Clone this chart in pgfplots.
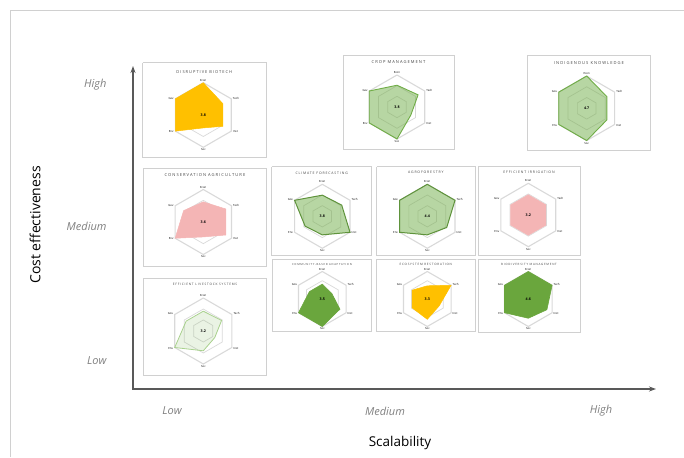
\documentclass[border=0pt]{standalone}
\usepackage{pgfplots}
\pgfplotsset{compat=1.18}
\usepgfplotslibrary{polar}
\usetikzlibrary{arrows.meta}
\usepackage{fontspec}
\setmainfont{Open Sans}
\newfontfamily\spaced[LetterSpace=25]{Open Sans}

\definecolor{amber}{HTML}{FFC000}
\definecolor{rosy}{HTML}{F4B5B5}
\definecolor{lgreen}{HTML}{A9D18E}
\definecolor{dgreen}{HTML}{70AD47}
\definecolor{sgreen}{HTML}{6AA63D}
\definecolor{ringgray}{HTML}{D9D9D9}
\definecolor{axgray}{HTML}{595959}
\definecolor{boxgray}{HTML}{D0D0D0}
\definecolor{lblgray}{HTML}{7F7F7F}

\tikzset{
  ring/.style={ringgray, line width=0.7pt},
  sAmber/.style={fill=amber, draw=amber, line width=0.5pt},
  sRosy/.style={fill=rosy, draw=rosy, line width=0.5pt},
  sGreen/.style={fill=dgreen, fill opacity=0.5, draw=dgreen, line width=0.9pt},
  sGreenD/.style={fill=dgreen, fill opacity=0.5, draw=dgreen!85!black, line width=1pt},
  sSolid/.style={fill=sgreen, draw=sgreen, line width=0.6pt},
  sPale/.style={fill=dgreen, fill opacity=0.15, draw=lgreen, line width=0.8pt},
  tiny/.style={inner sep=0.4pt},
}
\newcommand{\lab}{\fontsize{2.8}{3}\selectfont}
\newcommand{\ctr}{\fontsize{3.6}{4}\selectfont\bfseries}
\newcommand{\ttl}[1]{\spaced\fontsize{#1}{#1}\selectfont\color{black!75}}

% #1 x, #2 y (pt from bottom), #3 diameter, #4 style, #5 values, #6 centre label
\newcommand{\radar}[6]{%
\begin{polaraxis}[at={(#1pt,#2pt)}, anchor=center, scale only axis,
  width=#3pt, height=#3pt, xmin=0, xmax=360, ymin=0, ymax=5,
  hide axis, clip=false]
\addplot[ring, line width=1.1pt] coordinates {(90,5)(30,5)(-30,5)(-90,5)(-150,5)(150,5)(90,5)};
\addplot[ring] coordinates {(90,3.33)(30,3.33)(-30,3.33)(-90,3.33)(-150,3.33)(150,3.33)(90,3.33)};
\addplot[ring] coordinates {(90,1.67)(30,1.67)(-30,1.67)(-90,1.67)(-150,1.67)(150,1.67)(90,1.67)};
\addplot[#4] coordinates {#5};
\node[tiny, font=\lab, anchor=south] at (axis cs:90,5.12) {Econ};
\node[tiny, font=\lab, anchor=west] at (axis cs:30,5.2) {Tech};
\node[tiny, font=\lab, anchor=west] at (axis cs:-30,5.2) {Inst};
\node[tiny, font=\lab, anchor=north] at (axis cs:-90,5.12) {Soc};
\node[tiny, font=\lab, anchor=east] at (axis cs:-150,5.2) {Env};
\node[tiny, font=\lab, anchor=east] at (axis cs:150,5.2) {Gov};
\node[tiny, font=\ctr] at (axis cs:0,0) {#6};
\end{polaraxis}}

\begin{document}
\begin{tikzpicture}
\useasboundingbox (0,0) rectangle (684pt,457pt);
\begin{axis}[name=main, at={(0,0)}, anchor=south west, scale only axis,
  width=684pt, height=457pt, xmin=0, xmax=684, ymin=0, ymax=457,
  y dir=reverse, hide axis, clip=false]
% outer frame
\addplot[boxgray, line width=1pt] coordinates {(10.5,457)(10.5,10.5)(684,10.5)};
% panel boxes
\addplot[boxgray, line width=0.8pt] coordinates {(142.7,62.7)(266,62.7)(266,157.7)(142.7,157.7)(142.7,62.7)};
\addplot[boxgray, line width=0.8pt] coordinates {(343,55)(454,55)(454,149)(343,149)(343,55)};
\addplot[boxgray, line width=0.8pt] coordinates {(527.5,55)(650.7,55)(650.7,150)(527.5,150)(527.5,55)};
\addplot[boxgray, line width=0.8pt] coordinates {(143.3,168.3)(266.7,168.3)(266.7,266.7)(143.3,266.7)(143.3,168.3)};
\addplot[boxgray, line width=0.8pt] coordinates {(271.7,166.7)(371.7,166.7)(371.7,255)(271.7,255)(271.7,166.7)};
\addplot[boxgray, line width=0.8pt] coordinates {(376.7,166.7)(475,166.7)(475,255)(376.7,255)(376.7,166.7)};
\addplot[boxgray, line width=0.8pt] coordinates {(478.3,166.7)(580,166.7)(580,255)(478.3,255)(478.3,166.7)};
\addplot[boxgray, line width=0.8pt] coordinates {(143.3,278.3)(266.7,278.3)(266.7,375)(143.3,375)(143.3,278.3)};
\addplot[boxgray, line width=0.8pt] coordinates {(272.7,259)(371.7,259)(371.7,331.7)(272.7,331.7)(272.7,259)};
\addplot[boxgray, line width=0.8pt] coordinates {(376.7,259)(475,259)(475,331.7)(376.7,331.7)(376.7,259)};
\addplot[boxgray, line width=0.8pt] coordinates {(478.3,259)(580,259)(580,332)(478.3,332)(478.3,259)};
% axes arrows
\addplot[axgray, line width=1.2pt, -{Stealth[length=7pt,width=5pt]}] coordinates {(133,389)(133,66)};
\addplot[axgray, line width=1.2pt, -{Stealth[length=7pt,width=5pt]}] coordinates {(132.4,389)(656,389)};
% category labels
\node[font=\fontsize{11}{13}\selectfont\itshape, text=lblgray, anchor=east] at (axis cs:110,85) {High};
\node[font=\fontsize{11}{13}\selectfont\itshape, text=lblgray, anchor=east] at (axis cs:110,226) {Medium};
\node[font=\fontsize{11}{13}\selectfont\itshape, text=lblgray, anchor=east] at (axis cs:110,361) {Low};
\node[font=\fontsize{11}{13}\selectfont\itshape, text=lblgray] at (axis cs:172,411) {Low};
\node[font=\fontsize{11}{13}\selectfont\itshape, text=lblgray] at (axis cs:385,411) {Medium};
\node[font=\fontsize{11}{13}\selectfont\itshape, text=lblgray] at (axis cs:601,411) {High};
\node[font=\fontsize{14}{16}\selectfont, rotate=90] at (axis cs:35,225) {Cost effectiveness};
\node[font=\fontsize{13.5}{16}\selectfont] at (axis cs:400,443) {Scalability};
% panel titles
\node[tiny, font={\ttl{4.0}}] at (axis cs:204.3,72.3) {DISRUPTIVE BIOTECH};
\node[tiny, font={\ttl{4.1}}] at (axis cs:398.5,61.7) {CROP MANAGEMENT};
\node[tiny, font={\ttl{4.1}}] at (axis cs:589,62.7) {INDIGENOUS KNOWLEDGE};
\node[tiny, font={\ttl{4.1}}] at (axis cs:205,175) {CONSERVATION AGRICULTURE};
\node[tiny, font={\ttl{3.45}}] at (axis cs:321.7,173.3) {CLIMATE FORECASTING};
\node[tiny, font={\ttl{3.45}}] at (axis cs:425.8,172.3) {AGROFORESTRY};
\node[tiny, font={\ttl{3.45}}] at (axis cs:529,172.3) {EFFICIENT IRRIGATION};
\node[tiny, font={\ttl{3.15}}] at (axis cs:205,284.3) {EFFICIENT LIVESTOCK SYSTEMS};
\node[tiny, font={\ttl{2.75}}] at (axis cs:322,264.5) {COMMUNITY-BASED ADAPTATION};
\node[tiny, font={\ttl{3.05}}] at (axis cs:425.8,264.5) {ECOSYSTEM RESTORATION};
\node[tiny, font={\ttl{2.95}}] at (axis cs:529,264.5) {BIODIVERSITY MANAGEMENT};
\end{axis}

% radar panels: Econ, Tech, Inst, Soc, Env, Gov
\radar{203.3}{342}{64.6}{sAmber}{(90,5)(30,3.5)(-30,3.5)(-90,2)(-150,5)(150,5)(90,5)}{3.8}
\radar{397}{350}{64}{sGreen}{(90,3.4)(30,3.8)(-30,2.5)(-90,5)(-150,5)(150,5)(90,3.4)}{3.8}
\radar{586.7}{348.7}{64.6}{sGreen}{(90,5)(30,3.6)(-30,3.6)(-90,5)(-150,5)(150,5)(90,5)}{4.7}
\radar{203.3}{235}{65}{sRosy}{(90,3.1)(30,4)(-30,4)(-90,2.3)(-150,5)(150,3.5)(90,3.1)}{3.6}
\radar{322.3}{240.7}{64}{sGreenD}{(90,3.3)(30,3.5)(-30,5)(-90,2.9)(-150,3.1)(150,5)(90,3.3)}{3.8}
\radar{427.3}{240.7}{64}{sGreenD}{(90,5)(30,5)(-30,3.5)(-90,2.9)(-150,5)(150,5)(90,5)}{4.4}
\radar{528.3}{242}{63.4}{sRosy}{(90,3.2)(30,3.2)(-30,3.2)(-90,3.2)(-150,3.2)(150,3.2)(90,3.2)}{3.2}
\radar{203.3}{126}{66}{sPale}{(90,3)(30,3.2)(-30,2)(-90,3)(-150,5)(150,3)(90,3)}{3.2}
\radar{322.3}{158}{55}{sSolid}{(90,2.7)(30,2)(-30,3.7)(-90,5)(-150,5)(150,2.7)(90,2.7)}{3.5}
\radar{427.3}{158}{55}{sAmber}{(90,2.4)(30,5)(-30,2.5)(-90,3.7)(-150,3.2)(150,3.2)(90,2.4)}{3.3}
\radar{528.3}{158}{55}{sSolid}{(90,5)(30,5)(-30,3.9)(-90,3.5)(-150,5)(150,5)(90,5)}{4.6}
\end{tikzpicture}
\end{document}
